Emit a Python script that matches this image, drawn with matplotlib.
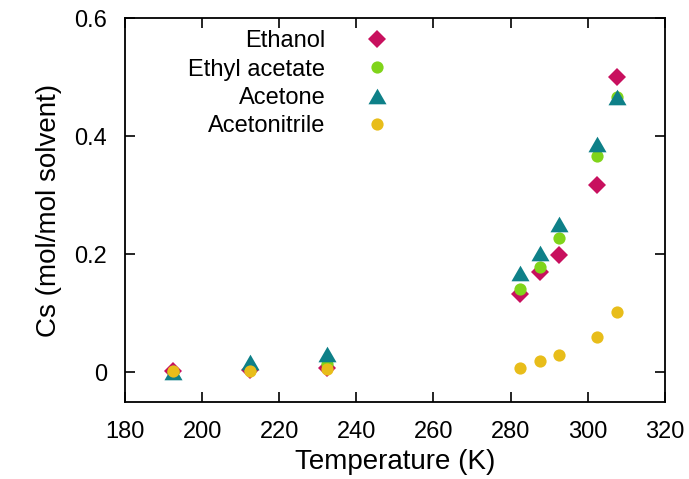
import matplotlib
matplotlib.use("Agg")
import matplotlib.pyplot as plt

plt.rcParams['font.family'] = ['Liberation Sans', 'DejaVu Sans']

temps = [192.5, 212.5, 232.5, 282.5, 287.5, 292.5, 302.5, 307.5]
ethanol = [0.003, 0.004, 0.008, 0.132, 0.170, 0.198, 0.317, 0.500]
ethyl_acetate = [0.000, 0.004, 0.015, 0.141, 0.178, 0.227, 0.367, 0.466]
acetone = [0.000, 0.017, 0.032, 0.168, 0.203, 0.252, 0.386, 0.466]
acetonitrile = [0.002, 0.002, 0.006, 0.007, 0.019, 0.030, 0.060, 0.102]

# equilateral triangle, centred on its bounding box
tri = [(-1, -0.866), (1, -0.866), (0, 0.866)]

series = [
    ("Ethanol", ethanol, "D", "#c8105e", 9.3),
    ("Ethyl acetate", ethyl_acetate, "o", "#80d41a", 8.8),
    ("Acetone", acetone, tri, "#0e8088", 13),
    ("Acetonitrile", acetonitrile, "o", "#e8bd1a", 8.8),
]

fig = plt.figure(figsize=(6.89, 4.79), dpi=100)
ax = fig.add_axes([0.1814, 0.1608, 0.7836, 0.8016])

for name, vals, mk, col, ms in series:
    ax.plot(temps, vals, linestyle="none", marker=mk, color=col,
            markersize=ms, markeredgewidth=0, label=name)

ax.set_xlim(180, 320)
ax.set_ylim(-0.05, 0.6)
ax.set_xticks(range(180, 321, 20))
ax.set_yticks([0, 0.2, 0.4, 0.6])
ax.set_yticklabels(["0", "0.2", "0.4", "0.6"])
ax.tick_params(direction="in", top=True, right=True, length=7, width=1.2,
               labelsize=17)
ax.tick_params(axis="x", pad=14)
ax.tick_params(axis="y", pad=13)
for s in ax.spines.values():
    s.set_linewidth(1.3)

ax.set_xlabel("Temperature (K)", fontsize=20, labelpad=4)
ax.set_ylabel("Cs (mol/mol solvent)", fontsize=20, labelpad=9)

ax.legend(loc="upper right", bbox_to_anchor=(0.488, 0.968), frameon=False,
          markerfirst=False, fontsize=17, handlelength=1.0, handletextpad=1.67,
          labelspacing=0.27, borderaxespad=0, borderpad=0)
leg = ax.get_legend()
for t in leg.get_texts():
    t.set_ha("right")
leg._legend_box.align = "right"

fig.savefig("out.png", dpi=100)
